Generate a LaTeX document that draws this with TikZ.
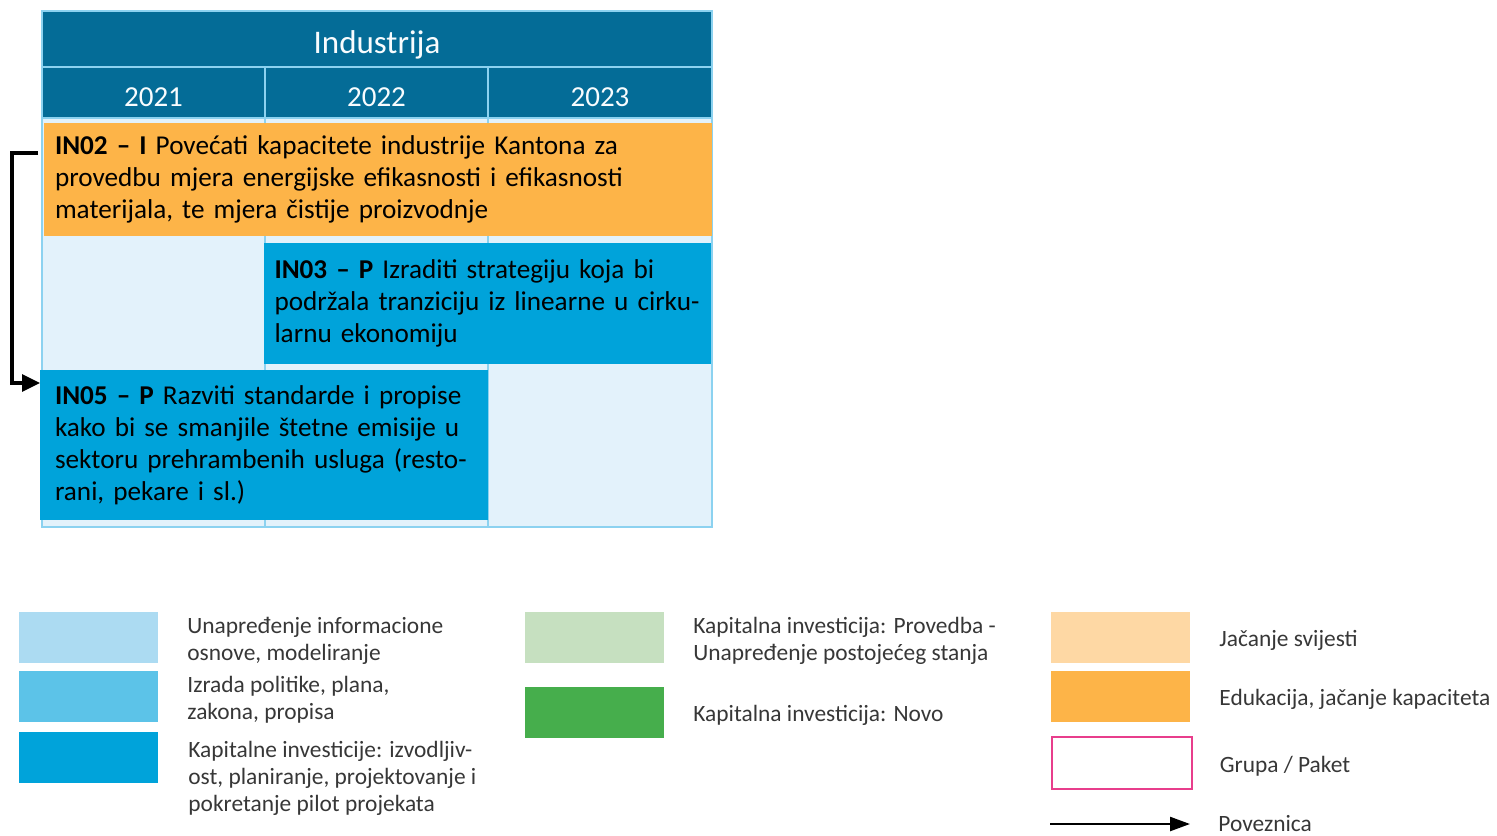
\documentclass[tikz,border=0pt]{standalone}
\usepackage{fontspec}
\setmainfont{Carlito}
\usepackage{tikz}
\usetikzlibrary{positioning,arrows.meta,calc}
\definecolor{inHead}{RGB}{4,108,151}
\definecolor{inGrid}{RGB}{140,210,240}
\definecolor{inCell}{RGB}{227,242,251}
\definecolor{inOrange}{RGB}{253,180,72}
\definecolor{inBlue}{RGB}{0,163,218}
\definecolor{inSky}{RGB}{172,219,242}
\definecolor{inMid}{RGB}{92,195,232}
\definecolor{inPale}{RGB}{198,224,192}
\definecolor{inGreen}{RGB}{70,174,76}
\definecolor{inPeach}{RGB}{254,216,164}
\definecolor{inPink}{RGB}{232,62,140}
\definecolor{inText}{RGB}{55,55,55}
\tikzset{
    base/.style={inner sep=0pt, outer sep=0pt},
    head/.style={base, rectangle, draw=inGrid, line width=1pt, fill=inHead, text=white!92!inSky,
                 anchor=north west, text height=13.5pt, text depth=0pt,
                 font=\fontsize{14.5}{17}\selectfont},
    measure/.style={base, rectangle, anchor=north west, align=left, text=black,
                    font=\fontsize{13.6}{16}\selectfont, inner xsep=5.5pt},
    swatch/.style={rectangle, anchor=north west, minimum width=70pt, minimum height=26pt,
                   inner sep=0pt, draw=white, line width=0.5pt},
    legtext/.style={anchor=west, align=left, text=inText, inner sep=0pt,
                    font=\fontsize{11.7}{13.5}\selectfont},
    link/.style={-{Triangle[length=9pt,width=8.5pt]}, line width=1.6pt, black}
}
\begin{document}
\begin{tikzpicture}[x=0.5pt,y=-0.5pt]
  \useasboundingbox (0,0) rectangle (1497,835);

  % Grid background
  \fill[inCell] (42,118) rectangle (712,527);
  \draw[inGrid, line width=1pt] (42,118) rectangle (712,527);
  \draw[inGrid, line width=1pt] (265,118) -- (265,527);
  \draw[inGrid, line width=1pt] (488,118) -- (488,527);

  % Header
  \node[head, minimum width=335pt, minimum height=28pt, font=\fontsize{16.5}{19}\selectfont, text height=14.5pt] (title) at (42,11) {Industrija};
  \node[head, minimum width=111.5pt, minimum height=25.5pt] (y21) at (42,67) {2021};
  \node[head, minimum width=111.5pt, minimum height=25.5pt] (y22) at (265,67) {2022};
  \node[head, minimum width=112pt, minimum height=25.5pt] (y23) at (488,67) {2023};

  % Measures
  \node[measure, fill=inOrange, minimum width=334pt, minimum height=56.5pt, text width=323pt] (in02) at (44,123)
    {\textbf{IN02 – I} Povećati kapacitete industrije Kantona za\\
     provedbu mjera energijske efikasnosti i efikasnosti\\
     materijala, te mjera čistije proizvodnje};
  \node[measure, fill=inBlue, minimum width=223.5pt, minimum height=60.5pt, text width=213pt, inner xsep=5pt] (in03) at (264,243)
    {\textbf{IN03 – P} Izraditi strategiju koja bi\\
     podržala tranziciju iz linearne u cirku-\\
     larnu ekonomiju};
  \node[measure, fill=inBlue, minimum width=223.5pt, minimum height=75pt, text width=209pt, inner xsep=7.5pt] (in05) at (40,370)
    {\textbf{IN05 – P} Razviti standarde i propise\\
     kako bi se smanjile štetne emisije u\\
     sektoru prehrambenih usluga (resto-\\
     rani, pekare i sl.)};

  % Link
  \draw[link] ([shift={(-6,30)}]in02.north west) -- ++(-26,0) |- ([shift={(0,13)}]in05.north west);

  % Legend, column 1
  \node[swatch, fill=inSky] (s1) at (18,611) {};
  \node[swatch, fill=inMid] (s2) at (18,670) {};
  \node[swatch, fill=inBlue] (s3) at (18,731) {};
  \node[legtext, right=14pt of s1, yshift=-1.5pt] (t1) {Unapređenje informacione\\osnove, modeliranje};
  \node[legtext, right=14pt of s2, yshift=-1.5pt] (t2) {Izrada politike, plana,\\zakona, propisa};
  \node[legtext, anchor=north west] (t3) at ([shift={(29,10)}]s3.north east)
    {Kapitalne investicije: izvodljiv-\\ost, planiranje, projektovanje i\\pokretanje pilot projekata};

  % Legend, column 2
  \node[swatch, fill=inPale] (s4) at (524,611) {};
  \node[swatch, fill=inGreen] (s5) at (524,686) {};
  \node[legtext, right=14pt of s4, yshift=-1.5pt] (t4) {Kapitalna investicija: Provedba -\\Unapređenje postojećeg stanja};
  \node[legtext, right=14pt of s5, yshift=-1.5pt] (t5) {Kapitalna investicija: Novo};

  % Legend, column 3
  \node[swatch, fill=inPeach] (s6) at (1050,611) {};
  \node[swatch, fill=inOrange] (s7) at (1050,670) {};
  \node[swatch, draw=inPink, line width=1.2pt, fill=white] (s8) at (1051,736) {};
  \coordinate (a0) at (1050,824);
  \coordinate (a1) at (1190,824);
  \draw[-{Triangle[length=10pt,width=7pt]}, line width=1.2pt] (a0) -- (a1);
  \node[legtext, right=14pt of s6, yshift=-1.5pt] (t6) {Jačanje svijesti};
  \node[legtext, right=14pt of s7, yshift=-1.5pt] (t7) {Edukacija, jačanje kapaciteta};
  \node[legtext, right=13pt of s8, yshift=-1.5pt] (t8) {Grupa / Paket};
  \node[legtext, right=14pt of a1] (t9) {Poveznica};
\end{tikzpicture}
\end{document}
